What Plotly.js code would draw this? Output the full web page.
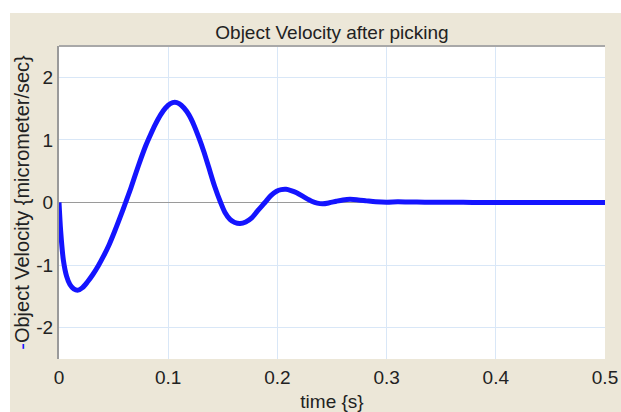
<!DOCTYPE html>
<html>
<head>
<meta charset="utf-8">
<script src="https://cdn.plot.ly/plotly-3.0.1.min.js"></script>
<style>
  html, body { margin: 0; padding: 0; background: #ffffff; width: 621px; height: 412px; overflow: hidden; }
  #chart { position: absolute; left: 10px; top: 13px; width: 611px; height: 399px; }
</style>
</head>
<body>
<div id="chart"></div>
<script>
// time (s)
const timeS = [0, 0.0015, 0.004, 0.007, 0.010, 0.0135, 0.0175, 0.0215, 0.026, 0.031, 0.036,
  0.041, 0.046, 0.051, 0.056, 0.061, 0.066, 0.0705, 0.075, 0.0795, 0.084, 0.088, 0.093,
  0.0975, 0.102, 0.106, 0.110, 0.1145, 0.119, 0.1235, 0.128, 0.1325, 0.137, 0.1425, 0.148,
  0.152, 0.1566, 0.161, 0.1658, 0.171, 0.1765, 0.182, 0.1886, 0.194, 0.1993, 0.2035, 0.2079,
  0.2125, 0.2176, 0.2245, 0.2314, 0.2365, 0.2415, 0.2475, 0.254, 0.26, 0.2665, 0.274, 0.2817,
  0.29, 0.30, 0.31, 0.32, 0.335, 0.35, 0.37, 0.385, 0.42, 0.46, 0.5];
// object velocity (micrometer/sec)
const velocity = [0, -0.45, -0.92, -1.18, -1.31, -1.38, -1.40, -1.36, -1.27, -1.15, -1.01,
  -0.85, -0.67, -0.46, -0.235, 0, 0.24, 0.475, 0.70, 0.91, 1.09, 1.24, 1.40,
  1.51, 1.58, 1.60, 1.58, 1.51, 1.40, 1.24, 1.04, 0.82, 0.57, 0.26, 0,
  -0.16, -0.27, -0.32, -0.336, -0.31, -0.245, -0.13, 0, 0.11, 0.18, 0.205, 0.21,
  0.19, 0.155, 0.085, 0.02, -0.01, -0.02, -0.005, 0.02, 0.04, 0.05, 0.04, 0.026,
  0.012, 0.005, 0.01, 0.008, 0.005, 0.005, 0.004, 0, 0, 0, 0];

const xTicks = [0, 0.1, 0.2, 0.3, 0.4, 0.5];
const xTickText = ['0', '0.1', '0.2', '0.3', '0.4', '0.5'];
const yTicks = [-2, -1, 0, 1, 2];
const yTickText = ['-2', '-1', '0', '1', '2'];

const FONT = 'Liberation Sans, Arial, Helvetica, sans-serif';
const TEXT = '#222222';
const GRID = '#d9e7f7';

const trace = {
  x: timeS,
  y: velocity,
  type: 'scatter',
  mode: 'lines',
  line: { color: '#1414ff', width: 5, shape: 'spline', smoothing: 0.8 },
  hoverinfo: 'skip'
};

const layout = {
  width: 611,
  height: 399,
  paper_bgcolor: '#ece7d8',
  plot_bgcolor: '#ffffff',
  margin: { l: 49, r: 16, t: 33, b: 53, pad: 0 },
  showlegend: false,
  title: {
    text: 'Object Velocity after picking',
    font: { family: FONT, size: 19, color: TEXT },
    x: 0.5, xref: 'paper', xanchor: 'center',
    y: 1 - 19 / 399, yref: 'container', yanchor: 'middle'
  },
  xaxis: {
    range: [0, 0.5],
    tickvals: xTicks,
    ticktext: xTickText,
    tickfont: { family: FONT, size: 19, color: TEXT },
    ticklabelstandoff: 5,
    showgrid: true, gridcolor: GRID, gridwidth: 1,
    zeroline: false, showline: false, ticks: '',
    automargin: false, fixedrange: true,
    title: { text: 'time {s}', font: { family: FONT, size: 19, color: TEXT } }
  },
  yaxis: {
    range: [-2.5, 2.5],
    tickvals: yTicks,
    ticktext: yTickText,
    tickfont: { family: FONT, size: 19, color: TEXT },
    showgrid: true, gridcolor: GRID, gridwidth: 1,
    zeroline: true, zerolinecolor: '#9a9a9a', zerolinewidth: 1.5,
    showline: true, linecolor: '#9a9a9a', linewidth: 2,
    ticks: '', automargin: true, fixedrange: true,
    title: { text: "<span style='color:#1414ff'>-</span>Object Velocity {micrometer/sec}", font: { family: FONT, size: 20, color: TEXT }, standoff: 1 }
  },
  shapes: [
    { type: 'line', xref: 'paper', yref: 'paper', x0: 0, x1: 1, y0: 1, y1: 1,
      line: { color: '#a8a8a8', width: 2 }, layer: 'above' }
  ]
};

Plotly.newPlot('chart', [trace], layout, { displayModeBar: false, staticPlot: true });
</script>
</body>
</html>
